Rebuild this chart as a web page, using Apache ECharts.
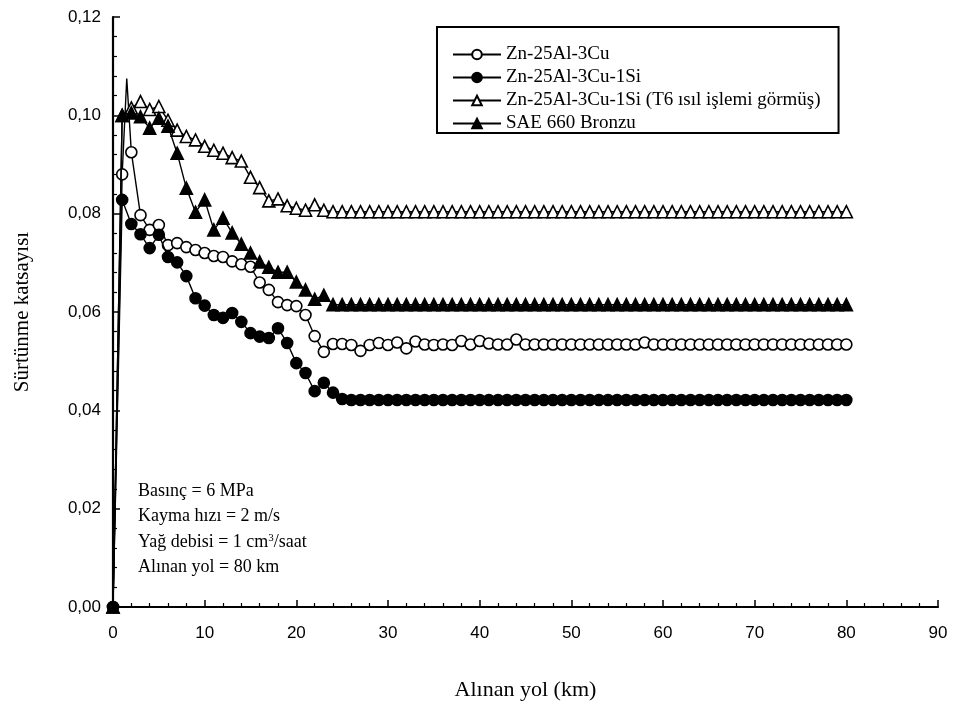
<!DOCTYPE html>
<html><head><meta charset="utf-8">
<script src="https://cdn.jsdelivr.net/npm/echarts@6/dist/echarts.min.js"></script>
<style>html,body{margin:0;padding:0;background:#fff}#c{width:957px;height:706px}</style>
</head><body><div id="c"></div>
<script>
// ---- data ----
const seriesNames = ["Zn-25Al-3Cu", "Zn-25Al-3Cu-1Si", "Zn-25Al-3Cu-1Si (T6 ısıl işlemi görmüş)", "SAE 660 Bronzu"];
const xTicks = [0,10,20,30,40,50,60,70,80,90];
const yTicks = [0,0.02,0.04,0.06,0.08,0.10,0.12];

const xA = [0,1,1.5,2,3,4,5,6,7,8,9,10,11,12,13,14,15,16,17,18,19,20,21,22,23,24,25,26,27,28,29,30,31,32,33,34,35,36,37,38,39,40,41,42,43,44,45,46,47,48,49,50,51,52,53,54,55,56,57,58,59,60,61,62,63,64,65,66,67,68,69,70,71,72,73,74,75,76,77,78,79,80];
const yA = [0,0.0880,0.1075,0.0925,0.0797,0.0767,0.0777,0.0736,0.0740,0.0732,0.0726,0.0720,0.0714,0.0712,0.0703,0.0697,0.0692,0.0660,0.0645,0.0620,0.0614,0.0612,0.0594,0.0551,0.0519,0.0535,0.0535,0.0533,0.0521,0.0533,0.0537,0.0533,0.0538,0.0526,0.0540,0.0534,0.0533,0.0534,0.0533,0.0541,0.0534,0.0541,0.0536,0.0534,0.0534,0.0544,0.0534,0.0534,0.0534,0.0534,0.0534,0.0534,0.0534,0.0534,0.0534,0.0534,0.0534,0.0534,0.0534,0.0538,0.0534,0.0534,0.0534,0.0534,0.0534,0.0534,0.0534,0.0534,0.0534,0.0534,0.0534,0.0534,0.0534,0.0534,0.0534,0.0534,0.0534,0.0534,0.0534,0.0534,0.0534,0.0534];
const hiddenA = [2]; // unmarked peak point

const xB = [0,1,2,3,4,5,6,7,8,9,10,11,12,13,14,15,16,17,18,19,20,21,22,23,24,25,26,27,28,29,30,31,32,33,34,35,36,37,38,39,40,41,42,43,44,45,46,47,48,49,50,51,52,53,54,55,56,57,58,59,60,61,62,63,64,65,66,67,68,69,70,71,72,73,74,75,76,77,78,79,80];
const yB = [0,0.0828,0.0779,0.0758,0.0730,0.0757,0.0712,0.0701,0.0673,0.0628,0.0613,0.0594,0.0588,0.0598,0.0580,0.0557,0.0550,0.0547,0.0567,0.0537,0.0496,0.0476,0.0439,0.0456,0.0436,0.0423,0.0421,0.0421,0.0421,0.0421,0.0421,0.0421,0.0421,0.0421,0.0421,0.0421,0.0421,0.0421,0.0421,0.0421,0.0421,0.0421,0.0421,0.0421,0.0421,0.0421,0.0421,0.0421,0.0421,0.0421,0.0421,0.0421,0.0421,0.0421,0.0421,0.0421,0.0421,0.0421,0.0421,0.0421,0.0421,0.0421,0.0421,0.0421,0.0421,0.0421,0.0421,0.0421,0.0421,0.0421,0.0421,0.0421,0.0421,0.0421,0.0421,0.0421,0.0421,0.0421,0.0421,0.0421,0.0421];

const xC = xB;
const yC = [0,0.1000,0.1015,0.1028,0.1012,0.1018,0.0990,0.0970,0.0957,0.0950,0.0937,0.0929,0.0923,0.0914,0.0907,0.0874,0.0853,0.0826,0.0830,0.0816,0.0811,0.0807,0.0818,0.0807,0.0804,0.0804,0.0804,0.0804,0.0804,0.0804,0.0804,0.0804,0.0804,0.0804,0.0804,0.0804,0.0804,0.0804,0.0804,0.0804,0.0804,0.0804,0.0804,0.0804,0.0804,0.0804,0.0804,0.0804,0.0804,0.0804,0.0804,0.0804,0.0804,0.0804,0.0804,0.0804,0.0804,0.0804,0.0804,0.0804,0.0804,0.0804,0.0804,0.0804,0.0804,0.0804,0.0804,0.0804,0.0804,0.0804,0.0804,0.0804,0.0804,0.0804,0.0804,0.0804,0.0804,0.0804,0.0804,0.0804,0.0804];

const xD = xB;
const yD = [0,0.1000,0.1005,0.0997,0.0974,0.0994,0.0978,0.0923,0.0852,0.0803,0.0828,0.0767,0.0791,0.0761,0.0738,0.0720,0.0702,0.0691,0.0681,0.0681,0.0661,0.0645,0.0626,0.0634,0.0615,0.0615,0.0615,0.0615,0.0615,0.0615,0.0615,0.0615,0.0615,0.0615,0.0615,0.0615,0.0615,0.0615,0.0615,0.0615,0.0615,0.0615,0.0615,0.0615,0.0615,0.0615,0.0615,0.0615,0.0615,0.0615,0.0615,0.0615,0.0615,0.0615,0.0615,0.0615,0.0615,0.0615,0.0615,0.0615,0.0615,0.0615,0.0615,0.0615,0.0615,0.0615,0.0615,0.0615,0.0615,0.0615,0.0615,0.0615,0.0615,0.0615,0.0615,0.0615,0.0615,0.0615,0.0615,0.0615,0.0615];

const noteLines = ["Basınç = 6 MPa", "Kayma hızı = 2 m/s", "Yağ debisi = 1 cm{s|3}/saat", "Alınan yol = 80 km"];

// ---- chart ----
function pairs(xs, ys, hidden) {
  return xs.map((x, i) => (hidden && hidden.includes(i)) ? {value: [x, ys[i]], symbol: 'none'} : [x, ys[i]]);
}
const serif = '"Liberation Serif", "Times New Roman", serif';
const sans = '"Liberation Sans", Arial, sans-serif';
const styles = [
  {symbol: 'circle', size: 11, fill: '#fff'},
  {symbol: 'circle', size: 11, fill: '#000'},
  {symbol: 'triangle', size: 12, fill: '#fff'},
  {symbol: 'triangle', size: 12, fill: '#000'}
];
const datas = [pairs(xA, yA, hiddenA), pairs(xB, yB), pairs(xC, yC), pairs(xD, yD)];

const chart = echarts.init(document.getElementById('c'), null, {renderer: 'canvas'});
chart.setOption({
  animation: false,
  backgroundColor: '#fff',
  grid: {left: 113, right: 19, top: 17, bottom: 99, containLabel: false},
  xAxis: {
    type: 'value', min: xTicks[0], max: xTicks[xTicks.length-1], interval: 10,
    name: 'Alınan yol (km)', nameLocation: 'middle', nameGap: 72,
    nameTextStyle: {fontFamily: serif, fontSize: 22, color: '#000'},
    axisLine: {show: true, onZero: false, lineStyle: {color: '#000', width: 2.2}},
    axisTick: {show: true, inside: true, length: 7, lineStyle: {color: '#000', width: 1.5}},
    minorTick: {show: true, splitNumber: 5, length: 4, lineStyle: {color: '#000', width: 1.2}},
    splitLine: {show: false},
    axisLabel: {fontFamily: sans, fontSize: 17, color: '#000', margin: 18}
  },
  yAxis: {
    type: 'value', min: yTicks[0], max: yTicks[yTicks.length-1], interval: 0.02,
    name: 'Sürtünme katsayısı', nameLocation: 'middle', nameGap: 80,
    nameTextStyle: {fontFamily: serif, fontSize: 21, color: '#000'},
    axisLine: {show: true, onZero: false, lineStyle: {color: '#000', width: 2.2}},
    axisTick: {show: true, inside: true, length: 7, lineStyle: {color: '#000', width: 1.5}},
    minorTick: {show: true, splitNumber: 5, length: 4, lineStyle: {color: '#000', width: 1.2}},
    splitLine: {show: false},
    axisLabel: {fontFamily: sans, fontSize: 17, color: '#000', margin: 12,
      formatter: v => v.toFixed(2).replace('.', ',')}
  },
  legend: {
    orient: 'vertical', left: 437, top: 27,
    padding: [18, 18, 0, 15], itemGap: 4, itemWidth: 48, itemHeight: 12,
    borderColor: '#000', borderWidth: 2,
    textStyle: {fontFamily: serif, fontSize: 19, lineHeight: 17, color: '#000'},
    data: seriesNames
  },
  graphic: noteLines.map((t, i) => ({
    type: 'text', left: 138, top: 482 + i * 25.5,
    style: {text: t, fontFamily: serif, fontSize: 18, fill: '#000',
      rich: {s: {fontFamily: serif, fontSize: 11, verticalAlign: 'top', padding: [0, 0, 8, 0], fill: '#000'}}}
  })),
  series: seriesNames.map((n, k) => ({
    name: n, type: 'line', data: datas[k],
    symbol: styles[k].symbol, symbolSize: styles[k].size,
    lineStyle: {color: '#000', width: 1.4},
    itemStyle: {color: styles[k].fill, borderColor: '#000', borderWidth: 1.6},
    z: 2 + k
  }))
});
</script></body></html>
